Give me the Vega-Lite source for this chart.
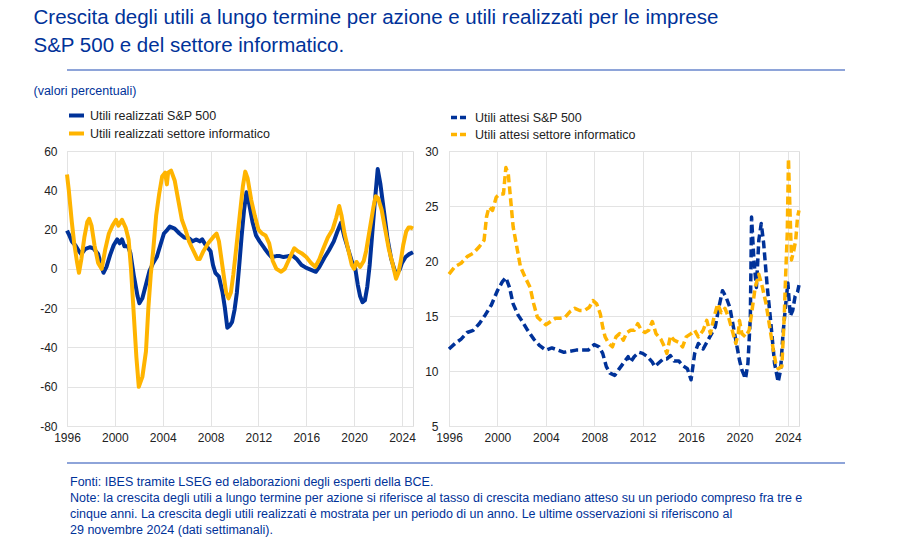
{
  "$schema": "https://vega.github.io/schema/vega-lite/v6.json",
  "padding": {"left": 30, "top": 7, "right": 5, "bottom": 5},
  "title": {
    "text": ["Crescita degli utili a lungo termine per azione e utili realizzati per le imprese", "S&P 500 e del settore informatico."],
    "anchor": "start", "fontSize": 20.5, "fontWeight": "normal", "color": "#003299", "lineHeight": 28, "offset": 8, "dx": 3
  },
  "config": {
    "font": "Liberation Sans",
    "view": {"stroke": "#dcdcdc"},
    "axis": {"gridColor": "#e3e3e3", "grid": true, "domain": false, "ticks": false, "labelFontSize": 12, "labelColor": "#222222", "title": null, "labelExpr": "'' + datum.value"}
  },
  "datasets": {
    "left": [
      {"x":1996.0,"v":19.5,"s":"Utili realizzati S&P 500"},{"x":1996.2,"v":17,"s":"Utili realizzati S&P 500"},{"x":1996.4,"v":14,"s":"Utili realizzati S&P 500"},{"x":1996.7,"v":12,"s":"Utili realizzati S&P 500"},{"x":1997.0,"v":9,"s":"Utili realizzati S&P 500"},{"x":1997.2,"v":7.5,"s":"Utili realizzati S&P 500"},{"x":1997.5,"v":10,"s":"Utili realizzati S&P 500"},{"x":1997.9,"v":11,"s":"Utili realizzati S&P 500"},{"x":1998.2,"v":10.5,"s":"Utili realizzati S&P 500"},{"x":1998.6,"v":7.5,"s":"Utili realizzati S&P 500"},{"x":1998.9,"v":1,"s":"Utili realizzati S&P 500"},{"x":1999.05,"v":-2,"s":"Utili realizzati S&P 500"},{"x":1999.3,"v":1,"s":"Utili realizzati S&P 500"},{"x":1999.6,"v":7,"s":"Utili realizzati S&P 500"},{"x":1999.9,"v":12,"s":"Utili realizzati S&P 500"},{"x":2000.2,"v":15,"s":"Utili realizzati S&P 500"},{"x":2000.4,"v":13,"s":"Utili realizzati S&P 500"},{"x":2000.6,"v":15,"s":"Utili realizzati S&P 500"},{"x":2000.8,"v":11.5,"s":"Utili realizzati S&P 500"},{"x":2001.1,"v":11.5,"s":"Utili realizzati S&P 500"},{"x":2001.3,"v":8,"s":"Utili realizzati S&P 500"},{"x":2001.6,"v":-4,"s":"Utili realizzati S&P 500"},{"x":2001.9,"v":-14,"s":"Utili realizzati S&P 500"},{"x":2002.05,"v":-17.5,"s":"Utili realizzati S&P 500"},{"x":2002.3,"v":-15,"s":"Utili realizzati S&P 500"},{"x":2002.6,"v":-8,"s":"Utili realizzati S&P 500"},{"x":2002.9,"v":-1,"s":"Utili realizzati S&P 500"},{"x":2003.2,"v":3,"s":"Utili realizzati S&P 500"},{"x":2003.5,"v":6,"s":"Utili realizzati S&P 500"},{"x":2003.8,"v":12,"s":"Utili realizzati S&P 500"},{"x":2004.1,"v":18,"s":"Utili realizzati S&P 500"},{"x":2004.4,"v":20,"s":"Utili realizzati S&P 500"},{"x":2004.6,"v":21.5,"s":"Utili realizzati S&P 500"},{"x":2005.0,"v":20.5,"s":"Utili realizzati S&P 500"},{"x":2005.4,"v":18,"s":"Utili realizzati S&P 500"},{"x":2005.8,"v":16,"s":"Utili realizzati S&P 500"},{"x":2006.2,"v":15.5,"s":"Utili realizzati S&P 500"},{"x":2006.5,"v":14,"s":"Utili realizzati S&P 500"},{"x":2006.8,"v":15,"s":"Utili realizzati S&P 500"},{"x":2007.1,"v":14,"s":"Utili realizzati S&P 500"},{"x":2007.3,"v":15,"s":"Utili realizzati S&P 500"},{"x":2007.6,"v":12,"s":"Utili realizzati S&P 500"},{"x":2008.0,"v":9,"s":"Utili realizzati S&P 500"},{"x":2008.2,"v":2,"s":"Utili realizzati S&P 500"},{"x":2008.4,"v":-2,"s":"Utili realizzati S&P 500"},{"x":2008.7,"v":-4,"s":"Utili realizzati S&P 500"},{"x":2009.0,"v":-12,"s":"Utili realizzati S&P 500"},{"x":2009.2,"v":-20,"s":"Utili realizzati S&P 500"},{"x":2009.4,"v":-30,"s":"Utili realizzati S&P 500"},{"x":2009.6,"v":-29,"s":"Utili realizzati S&P 500"},{"x":2009.8,"v":-27,"s":"Utili realizzati S&P 500"},{"x":2010.0,"v":-21,"s":"Utili realizzati S&P 500"},{"x":2010.2,"v":-12,"s":"Utili realizzati S&P 500"},{"x":2010.4,"v":2,"s":"Utili realizzati S&P 500"},{"x":2010.6,"v":17,"s":"Utili realizzati S&P 500"},{"x":2010.8,"v":30,"s":"Utili realizzati S&P 500"},{"x":2011.0,"v":39,"s":"Utili realizzati S&P 500"},{"x":2011.2,"v":34,"s":"Utili realizzati S&P 500"},{"x":2011.5,"v":24,"s":"Utili realizzati S&P 500"},{"x":2011.8,"v":17,"s":"Utili realizzati S&P 500"},{"x":2012.1,"v":14,"s":"Utili realizzati S&P 500"},{"x":2012.5,"v":10.5,"s":"Utili realizzati S&P 500"},{"x":2012.8,"v":8,"s":"Utili realizzati S&P 500"},{"x":2013.1,"v":6,"s":"Utili realizzati S&P 500"},{"x":2013.5,"v":6.5,"s":"Utili realizzati S&P 500"},{"x":2013.8,"v":6.5,"s":"Utili realizzati S&P 500"},{"x":2014.1,"v":6,"s":"Utili realizzati S&P 500"},{"x":2014.5,"v":6.5,"s":"Utili realizzati S&P 500"},{"x":2014.9,"v":6.5,"s":"Utili realizzati S&P 500"},{"x":2015.2,"v":5,"s":"Utili realizzati S&P 500"},{"x":2015.6,"v":2,"s":"Utili realizzati S&P 500"},{"x":2016.0,"v":0.5,"s":"Utili realizzati S&P 500"},{"x":2016.4,"v":-0.5,"s":"Utili realizzati S&P 500"},{"x":2016.8,"v":-1.5,"s":"Utili realizzati S&P 500"},{"x":2017.1,"v":1,"s":"Utili realizzati S&P 500"},{"x":2017.5,"v":5.5,"s":"Utili realizzati S&P 500"},{"x":2017.9,"v":9.5,"s":"Utili realizzati S&P 500"},{"x":2018.3,"v":14,"s":"Utili realizzati S&P 500"},{"x":2018.6,"v":19,"s":"Utili realizzati S&P 500"},{"x":2018.9,"v":23.5,"s":"Utili realizzati S&P 500"},{"x":2019.2,"v":16,"s":"Utili realizzati S&P 500"},{"x":2019.5,"v":10,"s":"Utili realizzati S&P 500"},{"x":2019.8,"v":4,"s":"Utili realizzati S&P 500"},{"x":2020.1,"v":0,"s":"Utili realizzati S&P 500"},{"x":2020.3,"v":-8,"s":"Utili realizzati S&P 500"},{"x":2020.5,"v":-14,"s":"Utili realizzati S&P 500"},{"x":2020.7,"v":-17,"s":"Utili realizzati S&P 500"},{"x":2020.9,"v":-16,"s":"Utili realizzati S&P 500"},{"x":2021.1,"v":-9,"s":"Utili realizzati S&P 500"},{"x":2021.3,"v":2,"s":"Utili realizzati S&P 500"},{"x":2021.5,"v":17,"s":"Utili realizzati S&P 500"},{"x":2021.7,"v":32,"s":"Utili realizzati S&P 500"},{"x":2021.97,"v":50.8,"s":"Utili realizzati S&P 500"},{"x":2022.2,"v":43,"s":"Utili realizzati S&P 500"},{"x":2022.5,"v":29,"s":"Utili realizzati S&P 500"},{"x":2022.8,"v":15,"s":"Utili realizzati S&P 500"},{"x":2023.1,"v":5,"s":"Utili realizzati S&P 500"},{"x":2023.4,"v":-1,"s":"Utili realizzati S&P 500"},{"x":2023.6,"v":-2,"s":"Utili realizzati S&P 500"},{"x":2023.8,"v":-0.5,"s":"Utili realizzati S&P 500"},{"x":2024.0,"v":3,"s":"Utili realizzati S&P 500"},{"x":2024.3,"v":6,"s":"Utili realizzati S&P 500"},{"x":2024.6,"v":7.5,"s":"Utili realizzati S&P 500"},{"x":2024.92,"v":8.5,"s":"Utili realizzati S&P 500"},
      {"x":1996.0,"v":48,"s":"Utili realizzati settore informatico"},{"x":1996.15,"v":40,"s":"Utili realizzati settore informatico"},{"x":1996.4,"v":24,"s":"Utili realizzati settore informatico"},{"x":1996.6,"v":13,"s":"Utili realizzati settore informatico"},{"x":1996.85,"v":3,"s":"Utili realizzati settore informatico"},{"x":1997.0,"v":-2,"s":"Utili realizzati settore informatico"},{"x":1997.2,"v":5,"s":"Utili realizzati settore informatico"},{"x":1997.45,"v":16,"s":"Utili realizzati settore informatico"},{"x":1997.7,"v":24,"s":"Utili realizzati settore informatico"},{"x":1997.85,"v":25.5,"s":"Utili realizzati settore informatico"},{"x":1998.05,"v":22,"s":"Utili realizzati settore informatico"},{"x":1998.3,"v":12,"s":"Utili realizzati settore informatico"},{"x":1998.6,"v":3,"s":"Utili realizzati settore informatico"},{"x":1998.9,"v":0,"s":"Utili realizzati settore informatico"},{"x":1999.2,"v":10,"s":"Utili realizzati settore informatico"},{"x":1999.5,"v":18,"s":"Utili realizzati settore informatico"},{"x":1999.8,"v":22,"s":"Utili realizzati settore informatico"},{"x":2000.1,"v":25,"s":"Utili realizzati settore informatico"},{"x":2000.3,"v":22,"s":"Utili realizzati settore informatico"},{"x":2000.6,"v":25,"s":"Utili realizzati settore informatico"},{"x":2000.9,"v":21,"s":"Utili realizzati settore informatico"},{"x":2001.15,"v":15,"s":"Utili realizzati settore informatico"},{"x":2001.35,"v":0,"s":"Utili realizzati settore informatico"},{"x":2001.55,"v":-20,"s":"Utili realizzati settore informatico"},{"x":2001.8,"v":-45,"s":"Utili realizzati settore informatico"},{"x":2002.0,"v":-60,"s":"Utili realizzati settore informatico"},{"x":2002.3,"v":-55,"s":"Utili realizzati settore informatico"},{"x":2002.6,"v":-42,"s":"Utili realizzati settore informatico"},{"x":2002.8,"v":-20,"s":"Utili realizzati settore informatico"},{"x":2003.0,"v":-3,"s":"Utili realizzati settore informatico"},{"x":2003.2,"v":9,"s":"Utili realizzati settore informatico"},{"x":2003.45,"v":27,"s":"Utili realizzati settore informatico"},{"x":2003.7,"v":38,"s":"Utili realizzati settore informatico"},{"x":2003.95,"v":47,"s":"Utili realizzati settore informatico"},{"x":2004.2,"v":49,"s":"Utili realizzati settore informatico"},{"x":2004.35,"v":43,"s":"Utili realizzati settore informatico"},{"x":2004.45,"v":49,"s":"Utili realizzati settore informatico"},{"x":2004.7,"v":50,"s":"Utili realizzati settore informatico"},{"x":2005.0,"v":45,"s":"Utili realizzati settore informatico"},{"x":2005.3,"v":35,"s":"Utili realizzati settore informatico"},{"x":2005.6,"v":25,"s":"Utili realizzati settore informatico"},{"x":2005.9,"v":20,"s":"Utili realizzati settore informatico"},{"x":2006.2,"v":14,"s":"Utili realizzati settore informatico"},{"x":2006.5,"v":10,"s":"Utili realizzati settore informatico"},{"x":2006.9,"v":5,"s":"Utili realizzati settore informatico"},{"x":2007.1,"v":5,"s":"Utili realizzati settore informatico"},{"x":2007.4,"v":9,"s":"Utili realizzati settore informatico"},{"x":2007.8,"v":13,"s":"Utili realizzati settore informatico"},{"x":2008.2,"v":16,"s":"Utili realizzati settore informatico"},{"x":2008.5,"v":18,"s":"Utili realizzati settore informatico"},{"x":2008.7,"v":14,"s":"Utili realizzati settore informatico"},{"x":2009.0,"v":1,"s":"Utili realizzati settore informatico"},{"x":2009.3,"v":-12,"s":"Utili realizzati settore informatico"},{"x":2009.5,"v":-15,"s":"Utili realizzati settore informatico"},{"x":2009.7,"v":-12,"s":"Utili realizzati settore informatico"},{"x":2009.9,"v":-3,"s":"Utili realizzati settore informatico"},{"x":2010.1,"v":8,"s":"Utili realizzati settore informatico"},{"x":2010.4,"v":25,"s":"Utili realizzati settore informatico"},{"x":2010.7,"v":42,"s":"Utili realizzati settore informatico"},{"x":2010.9,"v":49.5,"s":"Utili realizzati settore informatico"},{"x":2011.1,"v":46,"s":"Utili realizzati settore informatico"},{"x":2011.4,"v":35,"s":"Utili realizzati settore informatico"},{"x":2011.7,"v":27,"s":"Utili realizzati settore informatico"},{"x":2012.0,"v":20,"s":"Utili realizzati settore informatico"},{"x":2012.3,"v":18,"s":"Utili realizzati settore informatico"},{"x":2012.6,"v":17,"s":"Utili realizzati settore informatico"},{"x":2012.9,"v":13,"s":"Utili realizzati settore informatico"},{"x":2013.2,"v":4,"s":"Utili realizzati settore informatico"},{"x":2013.5,"v":0,"s":"Utili realizzati settore informatico"},{"x":2013.9,"v":-1.5,"s":"Utili realizzati settore informatico"},{"x":2014.2,"v":0,"s":"Utili realizzati settore informatico"},{"x":2014.5,"v":4,"s":"Utili realizzati settore informatico"},{"x":2014.8,"v":8,"s":"Utili realizzati settore informatico"},{"x":2015.0,"v":10.5,"s":"Utili realizzati settore informatico"},{"x":2015.3,"v":9,"s":"Utili realizzati settore informatico"},{"x":2015.6,"v":8,"s":"Utili realizzati settore informatico"},{"x":2016.0,"v":6,"s":"Utili realizzati settore informatico"},{"x":2016.4,"v":3,"s":"Utili realizzati settore informatico"},{"x":2016.75,"v":1,"s":"Utili realizzati settore informatico"},{"x":2017.1,"v":5,"s":"Utili realizzati settore informatico"},{"x":2017.4,"v":10,"s":"Utili realizzati settore informatico"},{"x":2017.8,"v":16,"s":"Utili realizzati settore informatico"},{"x":2018.2,"v":20,"s":"Utili realizzati settore informatico"},{"x":2018.5,"v":26,"s":"Utili realizzati settore informatico"},{"x":2018.75,"v":32,"s":"Utili realizzati settore informatico"},{"x":2018.95,"v":27,"s":"Utili realizzati settore informatico"},{"x":2019.2,"v":18,"s":"Utili realizzati settore informatico"},{"x":2019.5,"v":10,"s":"Utili realizzati settore informatico"},{"x":2019.8,"v":2,"s":"Utili realizzati settore informatico"},{"x":2020.0,"v":0,"s":"Utili realizzati settore informatico"},{"x":2020.2,"v":3.5,"s":"Utili realizzati settore informatico"},{"x":2020.5,"v":1,"s":"Utili realizzati settore informatico"},{"x":2020.8,"v":4,"s":"Utili realizzati settore informatico"},{"x":2021.0,"v":9,"s":"Utili realizzati settore informatico"},{"x":2021.3,"v":20,"s":"Utili realizzati settore informatico"},{"x":2021.6,"v":31,"s":"Utili realizzati settore informatico"},{"x":2021.8,"v":37,"s":"Utili realizzati settore informatico"},{"x":2022.0,"v":36,"s":"Utili realizzati settore informatico"},{"x":2022.3,"v":30,"s":"Utili realizzati settore informatico"},{"x":2022.6,"v":20,"s":"Utili realizzati settore informatico"},{"x":2022.9,"v":10,"s":"Utili realizzati settore informatico"},{"x":2023.2,"v":3,"s":"Utili realizzati settore informatico"},{"x":2023.5,"v":-5,"s":"Utili realizzati settore informatico"},{"x":2023.7,"v":-2,"s":"Utili realizzati settore informatico"},{"x":2023.9,"v":4,"s":"Utili realizzati settore informatico"},{"x":2024.1,"v":12,"s":"Utili realizzati settore informatico"},{"x":2024.35,"v":19,"s":"Utili realizzati settore informatico"},{"x":2024.55,"v":21,"s":"Utili realizzati settore informatico"},{"x":2024.75,"v":21,"s":"Utili realizzati settore informatico"},{"x":2024.92,"v":20.5,"s":"Utili realizzati settore informatico"}
    ],
    "right": [
      {"x":1996.0,"v":12.0,"s":"Utili attesi S&P 500"},{"x":1996.5,"v":12.5,"s":"Utili attesi S&P 500"},{"x":1997.0,"v":12.9,"s":"Utili attesi S&P 500"},{"x":1997.5,"v":13.5,"s":"Utili attesi S&P 500"},{"x":1998.0,"v":13.7,"s":"Utili attesi S&P 500"},{"x":1998.5,"v":14.3,"s":"Utili attesi S&P 500"},{"x":1999.0,"v":15.1,"s":"Utili attesi S&P 500"},{"x":1999.5,"v":16.0,"s":"Utili attesi S&P 500"},{"x":2000.0,"v":17.3,"s":"Utili attesi S&P 500"},{"x":2000.4,"v":18.1,"s":"Utili attesi S&P 500"},{"x":2000.7,"v":18.5,"s":"Utili attesi S&P 500"},{"x":2001.0,"v":17.6,"s":"Utili attesi S&P 500"},{"x":2001.3,"v":16.1,"s":"Utili attesi S&P 500"},{"x":2001.7,"v":15.1,"s":"Utili attesi S&P 500"},{"x":2002.0,"v":14.6,"s":"Utili attesi S&P 500"},{"x":2002.5,"v":13.7,"s":"Utili attesi S&P 500"},{"x":2003.0,"v":12.9,"s":"Utili attesi S&P 500"},{"x":2003.5,"v":12.3,"s":"Utili attesi S&P 500"},{"x":2004.0,"v":11.9,"s":"Utili attesi S&P 500"},{"x":2004.5,"v":12.1,"s":"Utili attesi S&P 500"},{"x":2005.0,"v":11.9,"s":"Utili attesi S&P 500"},{"x":2005.5,"v":11.7,"s":"Utili attesi S&P 500"},{"x":2006.0,"v":11.8,"s":"Utili attesi S&P 500"},{"x":2006.5,"v":11.9,"s":"Utili attesi S&P 500"},{"x":2007.0,"v":11.9,"s":"Utili attesi S&P 500"},{"x":2007.5,"v":11.9,"s":"Utili attesi S&P 500"},{"x":2008.0,"v":12.4,"s":"Utili attesi S&P 500"},{"x":2008.4,"v":12.2,"s":"Utili attesi S&P 500"},{"x":2008.7,"v":11.6,"s":"Utili attesi S&P 500"},{"x":2009.0,"v":10.4,"s":"Utili attesi S&P 500"},{"x":2009.3,"v":9.8,"s":"Utili attesi S&P 500"},{"x":2009.7,"v":9.6,"s":"Utili attesi S&P 500"},{"x":2010.0,"v":10.1,"s":"Utili attesi S&P 500"},{"x":2010.4,"v":10.7,"s":"Utili attesi S&P 500"},{"x":2010.8,"v":11.3,"s":"Utili attesi S&P 500"},{"x":2011.0,"v":10.8,"s":"Utili attesi S&P 500"},{"x":2011.3,"v":11.3,"s":"Utili attesi S&P 500"},{"x":2011.7,"v":11.7,"s":"Utili attesi S&P 500"},{"x":2012.0,"v":11.6,"s":"Utili attesi S&P 500"},{"x":2012.4,"v":11.3,"s":"Utili attesi S&P 500"},{"x":2012.8,"v":10.8,"s":"Utili attesi S&P 500"},{"x":2013.0,"v":10.4,"s":"Utili attesi S&P 500"},{"x":2013.3,"v":10.7,"s":"Utili attesi S&P 500"},{"x":2013.7,"v":11.1,"s":"Utili attesi S&P 500"},{"x":2014.0,"v":11.1,"s":"Utili attesi S&P 500"},{"x":2014.3,"v":11.4,"s":"Utili attesi S&P 500"},{"x":2014.6,"v":10.9,"s":"Utili attesi S&P 500"},{"x":2015.0,"v":10.9,"s":"Utili attesi S&P 500"},{"x":2015.3,"v":10.5,"s":"Utili attesi S&P 500"},{"x":2015.7,"v":10.2,"s":"Utili attesi S&P 500"},{"x":2016.0,"v":9.2,"s":"Utili attesi S&P 500"},{"x":2016.3,"v":11.6,"s":"Utili attesi S&P 500"},{"x":2016.6,"v":12.5,"s":"Utili attesi S&P 500"},{"x":2017.0,"v":12.0,"s":"Utili attesi S&P 500"},{"x":2017.3,"v":12.6,"s":"Utili attesi S&P 500"},{"x":2017.7,"v":13.4,"s":"Utili attesi S&P 500"},{"x":2018.0,"v":14.0,"s":"Utili attesi S&P 500"},{"x":2018.3,"v":15.8,"s":"Utili attesi S&P 500"},{"x":2018.6,"v":17.3,"s":"Utili attesi S&P 500"},{"x":2018.9,"v":16.7,"s":"Utili attesi S&P 500"},{"x":2019.2,"v":15.8,"s":"Utili attesi S&P 500"},{"x":2019.5,"v":14.0,"s":"Utili attesi S&P 500"},{"x":2019.8,"v":12.2,"s":"Utili attesi S&P 500"},{"x":2020.0,"v":11.0,"s":"Utili attesi S&P 500"},{"x":2020.2,"v":10.1,"s":"Utili attesi S&P 500"},{"x":2020.5,"v":9.3,"s":"Utili attesi S&P 500"},{"x":2020.7,"v":10.7,"s":"Utili attesi S&P 500"},{"x":2020.9,"v":14.9,"s":"Utili attesi S&P 500"},{"x":2021.0,"v":24.0,"s":"Utili attesi S&P 500"},{"x":2021.2,"v":20.0,"s":"Utili attesi S&P 500"},{"x":2021.4,"v":17.6,"s":"Utili attesi S&P 500"},{"x":2021.6,"v":21.9,"s":"Utili attesi S&P 500"},{"x":2021.8,"v":23.4,"s":"Utili attesi S&P 500"},{"x":2022.0,"v":21.6,"s":"Utili attesi S&P 500"},{"x":2022.3,"v":17.6,"s":"Utili attesi S&P 500"},{"x":2022.6,"v":14.3,"s":"Utili attesi S&P 500"},{"x":2022.9,"v":10.7,"s":"Utili attesi S&P 500"},{"x":2023.2,"v":9.0,"s":"Utili attesi S&P 500"},{"x":2023.4,"v":10.1,"s":"Utili attesi S&P 500"},{"x":2023.6,"v":13.4,"s":"Utili attesi S&P 500"},{"x":2023.8,"v":15.8,"s":"Utili attesi S&P 500"},{"x":2024.0,"v":18.0,"s":"Utili attesi S&P 500"},{"x":2024.2,"v":15.0,"s":"Utili attesi S&P 500"},{"x":2024.4,"v":15.5,"s":"Utili attesi S&P 500"},{"x":2024.6,"v":16.8,"s":"Utili attesi S&P 500"},{"x":2024.8,"v":17.2,"s":"Utili attesi S&P 500"},{"x":2024.92,"v":17.8,"s":"Utili attesi S&P 500"},
      {"x":1996.0,"v":18.8,"s":"Utili attesi settore informatico"},{"x":1996.5,"v":19.5,"s":"Utili attesi settore informatico"},{"x":1997.0,"v":19.8,"s":"Utili attesi settore informatico"},{"x":1997.5,"v":20.4,"s":"Utili attesi settore informatico"},{"x":1998.0,"v":20.7,"s":"Utili attesi settore informatico"},{"x":1998.5,"v":21.3,"s":"Utili attesi settore informatico"},{"x":1998.9,"v":21.9,"s":"Utili attesi settore informatico"},{"x":1999.1,"v":24.0,"s":"Utili attesi settore informatico"},{"x":1999.3,"v":24.9,"s":"Utili attesi settore informatico"},{"x":1999.6,"v":24.6,"s":"Utili attesi settore informatico"},{"x":1999.9,"v":25.8,"s":"Utili attesi settore informatico"},{"x":2000.2,"v":26.1,"s":"Utili attesi settore informatico"},{"x":2000.5,"v":26.1,"s":"Utili attesi settore informatico"},{"x":2000.7,"v":28.5,"s":"Utili attesi settore informatico"},{"x":2000.9,"v":27.9,"s":"Utili attesi settore informatico"},{"x":2001.1,"v":25.5,"s":"Utili attesi settore informatico"},{"x":2001.3,"v":23.1,"s":"Utili attesi settore informatico"},{"x":2001.6,"v":21.3,"s":"Utili attesi settore informatico"},{"x":2001.9,"v":19.5,"s":"Utili attesi settore informatico"},{"x":2002.3,"v":18.5,"s":"Utili attesi settore informatico"},{"x":2002.7,"v":17.6,"s":"Utili attesi settore informatico"},{"x":2003.0,"v":16.1,"s":"Utili attesi settore informatico"},{"x":2003.3,"v":14.9,"s":"Utili attesi settore informatico"},{"x":2003.7,"v":14.5,"s":"Utili attesi settore informatico"},{"x":2004.0,"v":14.2,"s":"Utili attesi settore informatico"},{"x":2004.4,"v":14.5,"s":"Utili attesi settore informatico"},{"x":2004.8,"v":14.8,"s":"Utili attesi settore informatico"},{"x":2005.2,"v":14.8,"s":"Utili attesi settore informatico"},{"x":2005.6,"v":14.9,"s":"Utili attesi settore informatico"},{"x":2006.0,"v":15.4,"s":"Utili attesi settore informatico"},{"x":2006.4,"v":15.7,"s":"Utili attesi settore informatico"},{"x":2006.8,"v":15.5,"s":"Utili attesi settore informatico"},{"x":2007.2,"v":15.5,"s":"Utili attesi settore informatico"},{"x":2007.6,"v":15.8,"s":"Utili attesi settore informatico"},{"x":2007.9,"v":16.4,"s":"Utili attesi settore informatico"},{"x":2008.2,"v":16.1,"s":"Utili attesi settore informatico"},{"x":2008.5,"v":15.2,"s":"Utili attesi settore informatico"},{"x":2008.7,"v":14.0,"s":"Utili attesi settore informatico"},{"x":2008.9,"v":13.1,"s":"Utili attesi settore informatico"},{"x":2009.2,"v":12.5,"s":"Utili attesi settore informatico"},{"x":2009.5,"v":12.2,"s":"Utili attesi settore informatico"},{"x":2009.8,"v":13.1,"s":"Utili attesi settore informatico"},{"x":2010.1,"v":13.4,"s":"Utili attesi settore informatico"},{"x":2010.4,"v":12.8,"s":"Utili attesi settore informatico"},{"x":2010.7,"v":13.5,"s":"Utili attesi settore informatico"},{"x":2011.0,"v":13.7,"s":"Utili attesi settore informatico"},{"x":2011.3,"v":13.7,"s":"Utili attesi settore informatico"},{"x":2011.6,"v":14.3,"s":"Utili attesi settore informatico"},{"x":2011.9,"v":13.7,"s":"Utili attesi settore informatico"},{"x":2012.2,"v":13.5,"s":"Utili attesi settore informatico"},{"x":2012.5,"v":13.7,"s":"Utili attesi settore informatico"},{"x":2012.8,"v":14.5,"s":"Utili attesi settore informatico"},{"x":2013.1,"v":13.4,"s":"Utili attesi settore informatico"},{"x":2013.5,"v":12.9,"s":"Utili attesi settore informatico"},{"x":2013.8,"v":12.2,"s":"Utili attesi settore informatico"},{"x":2014.0,"v":11.6,"s":"Utili attesi settore informatico"},{"x":2014.3,"v":13.2,"s":"Utili attesi settore informatico"},{"x":2014.6,"v":12.8,"s":"Utili attesi settore informatico"},{"x":2015.0,"v":12.6,"s":"Utili attesi settore informatico"},{"x":2015.3,"v":12.2,"s":"Utili attesi settore informatico"},{"x":2015.6,"v":13.1,"s":"Utili attesi settore informatico"},{"x":2016.0,"v":13.4,"s":"Utili attesi settore informatico"},{"x":2016.3,"v":13.7,"s":"Utili attesi settore informatico"},{"x":2016.6,"v":13.1,"s":"Utili attesi settore informatico"},{"x":2017.0,"v":13.7,"s":"Utili attesi settore informatico"},{"x":2017.3,"v":14.6,"s":"Utili attesi settore informatico"},{"x":2017.6,"v":13.4,"s":"Utili attesi settore informatico"},{"x":2017.9,"v":14.9,"s":"Utili attesi settore informatico"},{"x":2018.2,"v":16.1,"s":"Utili attesi settore informatico"},{"x":2018.5,"v":15.3,"s":"Utili attesi settore informatico"},{"x":2018.8,"v":15.7,"s":"Utili attesi settore informatico"},{"x":2019.1,"v":14.9,"s":"Utili attesi settore informatico"},{"x":2019.4,"v":13.7,"s":"Utili attesi settore informatico"},{"x":2019.7,"v":12.5,"s":"Utili attesi settore informatico"},{"x":2019.9,"v":13.4,"s":"Utili attesi settore informatico"},{"x":2020.0,"v":14.6,"s":"Utili attesi settore informatico"},{"x":2020.2,"v":13.4,"s":"Utili attesi settore informatico"},{"x":2020.5,"v":13.1,"s":"Utili attesi settore informatico"},{"x":2020.8,"v":13.7,"s":"Utili attesi settore informatico"},{"x":2021.0,"v":15.2,"s":"Utili attesi settore informatico"},{"x":2021.3,"v":17.6,"s":"Utili attesi settore informatico"},{"x":2021.6,"v":18.8,"s":"Utili attesi settore informatico"},{"x":2021.9,"v":17.6,"s":"Utili attesi settore informatico"},{"x":2022.2,"v":16.1,"s":"Utili attesi settore informatico"},{"x":2022.5,"v":14.0,"s":"Utili attesi settore informatico"},{"x":2022.8,"v":11.9,"s":"Utili attesi settore informatico"},{"x":2023.0,"v":10.7,"s":"Utili attesi settore informatico"},{"x":2023.2,"v":10.2,"s":"Utili attesi settore informatico"},{"x":2023.5,"v":10.4,"s":"Utili attesi settore informatico"},{"x":2023.7,"v":14.9,"s":"Utili attesi settore informatico"},{"x":2023.8,"v":18.2,"s":"Utili attesi settore informatico"},{"x":2023.95,"v":22.5,"s":"Utili attesi settore informatico"},{"x":2024.05,"v":29.3,"s":"Utili attesi settore informatico"},{"x":2024.15,"v":25.5,"s":"Utili attesi settore informatico"},{"x":2024.3,"v":20.1,"s":"Utili attesi settore informatico"},{"x":2024.5,"v":21.0,"s":"Utili attesi settore informatico"},{"x":2024.65,"v":21.9,"s":"Utili attesi settore informatico"},{"x":2024.8,"v":24.0,"s":"Utili attesi settore informatico"},{"x":2024.92,"v":24.6,"s":"Utili attesi settore informatico"}
    ]
  },
  "spacing": 10,
  "vconcat": [
    {
      "width": 778, "height": 2,
      "view": {"fill": "#8ea4d9", "stroke": null},
      "data": {"values": [{}]},
      "mark": {"type": "text", "text": ""}
    },
    {
      "title": {"text": "(valori percentuali)", "anchor": "start", "fontSize": 12.5, "fontWeight": "normal", "color": "#003299", "offset": 8, "dx": 3},
      "spacing": 2,
      "resolve": {"scale": {"color": "independent"}, "legend": {"color": "independent"}},
      "hconcat": [
        {
          "width": 346, "height": 275,
          "data": {"name": "left"},
          "mark": {"type": "line", "strokeWidth": 4, "strokeJoin": "round"},
          "encoding": {
            "x": {"field": "x", "type": "quantitative", "scale": {"domain": [1996, 2024.92], "nice": false, "zero": false},
                  "axis": {"values": [1996, 2000, 2004, 2008, 2012, 2016, 2020, 2024], "labelFlush": false, "labelPadding": 6, "minExtent": 20}},
            "y": {"field": "v", "type": "quantitative", "scale": {"domain": [-80, 60], "nice": false},
                  "axis": {"values": [-80, -60, -40, -20, 0, 20, 40, 60], "labelPadding": 10, "minExtent": 36}},
            "color": {"field": "s", "type": "nominal",
                      "scale": {"domain": ["Utili realizzati S&P 500", "Utili realizzati settore informatico"], "range": ["#003299", "#ffb400"]},
                      "legend": {"title": null, "orient": "top", "direction": "vertical", "symbolType": "stroke", "symbolStrokeWidth": 4, "symbolSize": 225, "labelFontSize": 12.5, "labelColor": "#222222", "labelLimit": 0, "rowPadding": -1, "offset": 9, "padding": 0, "labelOffset": 4}}
          }
        },
        {
          "width": 350, "height": 275,
          "data": {"name": "right"},
          "mark": {"type": "line", "strokeWidth": 3.5, "strokeDash": [8, 4], "strokeJoin": "round"},
          "encoding": {
            "x": {"field": "x", "type": "quantitative", "scale": {"domain": [1996, 2024.92], "nice": false, "zero": false},
                  "axis": {"values": [1996, 2000, 2004, 2008, 2012, 2016, 2020, 2024], "labelFlush": false, "labelPadding": 6, "minExtent": 20}},
            "y": {"field": "v", "type": "quantitative", "scale": {"domain": [5, 30], "nice": false},
                  "axis": {"values": [5, 10, 15, 20, 25, 30], "labelPadding": 11, "minExtent": 30}},
            "color": {"field": "s", "type": "nominal",
                      "scale": {"domain": ["Utili attesi S&P 500", "Utili attesi settore informatico"], "range": ["#003299", "#ffb400"]},
                      "legend": {"title": null, "orient": "top", "direction": "vertical", "symbolType": "stroke", "symbolStrokeWidth": 3.5, "symbolDash": [6, 3], "symbolSize": 225, "labelFontSize": 12.5, "labelColor": "#222222", "labelLimit": 0, "rowPadding": -1, "offset": 9, "padding": 0, "labelOffset": 7}}
          }
        }
      ]
    },
    {
      "width": 778, "height": 2,
      "view": {"fill": "#8ea4d9", "stroke": null},
      "data": {"values": [{}]},
      "mark": {"type": "text", "text": ""},
      "title": {
        "text": ["Fonti: IBES tramite LSEG ed elaborazioni degli esperti della BCE.", "Note: la crescita degli utili a lungo termine per azione si riferisce al tasso di crescita mediano atteso su un periodo compreso fra tre e", "cinque anni. La crescita degli utili realizzati è mostrata per un periodo di un anno. Le ultime osservazioni si riferiscono al", "29 novembre 2024 (dati settimanali)."],
        "orient": "bottom", "anchor": "start", "fontSize": 12.5, "fontWeight": "normal", "color": "#003299", "lineHeight": 16, "offset": 8, "dx": 3
      }
    }
  ]
}
